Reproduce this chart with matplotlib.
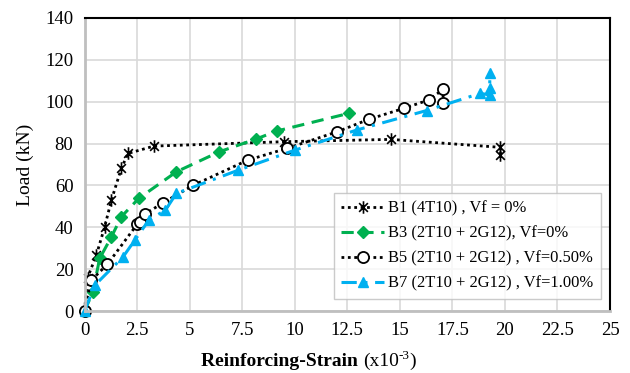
import matplotlib
matplotlib.use("Agg")
import matplotlib.pyplot as plt
from matplotlib.path import Path

plt.rcParams["font.family"] = ["Liberation Serif", "DejaVu Serif"]

# B1 (4T10), Vf = 0%
b1_x = [0, 0.15, 0.56, 0.96, 1.28, 1.75, 2.07, 3.31, 9.5, 14.58, 19.79, 19.79]
b1_y = [0, 16.0, 26.6, 40.2, 53.0, 68.1, 75.3, 78.8, 80.9, 82.0, 78.2, 74.5]

# B3 (2T10 + 2G12), Vf=0%
b3_x = [0, 0.40, 0.72, 1.28, 1.75, 2.58, 4.37, 6.42, 8.17, 9.15, 12.56]
b3_y = [0, 9.1, 25.1, 35.4, 45.0, 53.8, 66.5, 76.1, 82.2, 86.0, 94.4]

# B5 (2T10 + 2G12), Vf=0.50%
b5_x = [0, 0.32, 1.09, 2.51, 2.63, 2.87, 3.74, 5.18, 7.77, 9.63, 12.01,
        13.53, 15.18, 16.37, 17.06, 17.06]
b5_y = [0, 14.7, 22.3, 41.5, 42.6, 46.3, 51.7, 60.1, 72.1, 77.7, 85.6,
        91.6, 96.8, 100.8, 105.9, 99.5]

# B7 (2T10 + 2G12), Vf=1.00%
b7_x = [0, 0.49, 1.83, 2.39, 3.06, 3.85, 4.37, 7.32, 10.02, 12.96,
        16.28, 18.83, 19.28, 19.28, 19.28]
b7_y = [0, 12.3, 25.8, 33.8, 43.4, 48.2, 56.2, 67.3, 76.9, 86.5,
        95.8, 104.0, 103.2, 106.6, 113.8]

labels = ["B1 (4T10) , Vf = 0%", "B3 (2T10 + 2G12), Vf=0%",
          "B5 (2T10 + 2G12) , Vf=0.50%", "B7 (2T10 + 2G12) , Vf=1.00%"]

GREEN = "#00b050"
BLUE = "#00b0f0"

# excel style star: an X with a vertical bar through it
star = Path([(-0.7, -0.7), (0.7, 0.7), (-0.7, 0.7), (0.7, -0.7), (0, -1), (0, 1)],
            [Path.MOVETO, Path.LINETO, Path.MOVETO, Path.LINETO, Path.MOVETO, Path.LINETO])

fig = plt.figure(figsize=(6.3, 3.73), dpi=100)
ax = fig.add_axes([84.5 / 630, 1 - 311 / 373, (610 - 84.5) / 630, (311 - 18) / 373])

ax.plot(b1_x, b1_y, color="black", linestyle=(0, (1, 1.3)), linewidth=2,
        marker=star, markersize=9, markeredgewidth=1.2, label=labels[0], clip_on=False)
ax.plot(b3_x, b3_y, color=GREEN, linestyle=(0, (4, 2.5)), linewidth=2.2,
        marker="D", markersize=6.5, markerfacecolor=GREEN, markeredgecolor=GREEN,
        label=labels[1], clip_on=False)
ax.plot(b5_x, b5_y, color="black", linestyle=(0, (1, 1.3)), linewidth=2,
        marker="o", markersize=8, markerfacecolor="white", markeredgecolor="black",
        markeredgewidth=1.3, label=labels[2], clip_on=False)
ax.plot(b7_x, b7_y, color=BLUE, linestyle=(0, (5, 2.5, 1, 2.5)), linewidth=2.2,
        marker="^", markersize=7.5, markerfacecolor=BLUE, markeredgecolor=BLUE,
        label=labels[3], clip_on=False)

ax.set_xlim(0, 25)
ax.set_ylim(0, 140)
ax.set_xticks([0, 2.5, 5, 7.5, 10, 12.5, 15, 17.5, 20, 22.5, 25])
ax.set_xticklabels(["0", "2.5", "5", "7.5", "10", "12.5", "15", "17.5", "20", "22.5", "25"])
ax.set_yticks(range(0, 141, 20))
ax.tick_params(length=0, labelsize=13.5, pad=8)
ax.grid(True, color="#d9d9d9", linewidth=1.2)
ax.set_axisbelow(True)

for side in ["top", "right"]:
    ax.spines[side].set_color("black")
    ax.spines[side].set_linewidth(1.5)
for side in ["left", "bottom"]:
    ax.spines[side].set_color("#bfbfbf")
    ax.spines[side].set_linewidth(2)

ax.set_ylabel("Load (kN)", fontsize=14, labelpad=8)

# x label: bold part + normal part with a superscript, chained together
fig.text(363 / 630, 1 - 366 / 373, "Reinforcing-Strain ", fontsize=14,
         fontweight="bold", ha="right", va="baseline")
t2 = fig.text(363 / 630, 1 - 366 / 373, "(x10", fontsize=14, ha="left", va="baseline")
t3 = ax.annotate("-3", xy=(1, 0.45), xycoords=t2, fontsize=9.5, ha="left", va="bottom",
                 annotation_clip=False)
ax.annotate(")", xy=(1, 0), xycoords=(t3, t2), fontsize=14, ha="left", va="bottom",
            annotation_clip=False)

leg = ax.legend(loc="lower right", bbox_to_anchor=(0.983, 0.04), fontsize=11.9,
                frameon=True, fancybox=False, edgecolor="#bfbfbf",
                handlelength=2.6, handletextpad=0.25, labelspacing=0.55,
                borderpad=0.45, borderaxespad=0)
leg.get_frame().set_linewidth(1)

fig.savefig("out.png", dpi=100, facecolor="white")
